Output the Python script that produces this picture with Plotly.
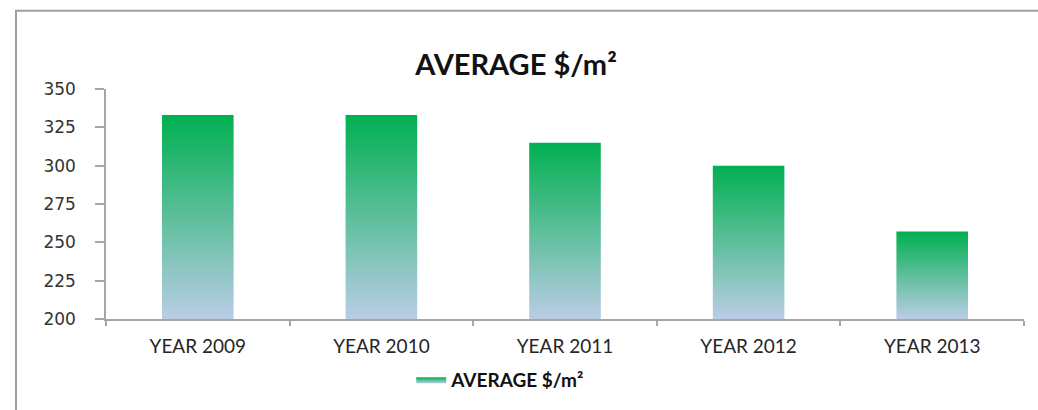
import plotly.graph_objects as go

# ---- data ----
categories = ["YEAR 2009", "YEAR 2010", "YEAR 2011", "YEAR 2012", "YEAR 2013"]
values = [333, 333, 315, 300, 257]
series_name = "AVERAGE $/m²"
y_ticks = [200, 225, 250, 275, 300, 325, 350]

# ---- style ----
BASE = 200
BAR_WIDTH = 0.39
GREEN = "#00B050"
LIGHT_BLUE = "#BACDE6"
AXIS_GRAY = "#A6A6A6"
TEXT = "#262626"

W, H = 1038, 410
ML, MR, MT, MB = 106, 14, 89, 89

fig = go.Figure()

for i, (cat, v) in enumerate(zip(categories, values)):
    x0, x1 = i - BAR_WIDTH / 2, i + BAR_WIDTH / 2
    fig.add_trace(go.Scatter(
        x=[x0, x1, x1, x0, x0],
        y=[BASE, BASE, v, v, BASE],
        mode="lines",
        fill="toself",
        line=dict(width=0, color=GREEN),
        fillgradient=dict(type="vertical", start=BASE, stop=v,
                          colorscale=[[0, LIGHT_BLUE], [1, GREEN]]),
        name=f"<b>{series_name}</b>",
        legendgroup="avg",
        showlegend=(i == 0),
        hovertext=f"{cat}: {v}",
        hoverinfo="text",
    ))

n = len(categories)
boundaries = [i - 0.5 for i in range(n + 1)]

fig.update_layout(
    width=W, height=H,
    margin=dict(l=ML, r=MR, t=MT, b=MB),
    paper_bgcolor="white",
    plot_bgcolor="white",
    title=dict(text=f"<b>{series_name}</b>", x=516 / W, xanchor="center",
               y=1 - 65 / H, yanchor="middle",
               font=dict(family="Lato", size=29, color="#111111")),
    xaxis=dict(
        range=[-0.5, n - 0.5],
        tickmode="array", tickvals=list(range(n)), ticktext=categories,
        ticks="", showgrid=False, zeroline=False,
        showline=True, linecolor=AXIS_GRAY, linewidth=1.5,
        tickfont=dict(family="Lato", size=19, color=TEXT),
        ticklabelstandoff=9,
        minor=dict(tickmode="array", tickvals=boundaries, ticks="outside",
                   ticklen=5, tickcolor=AXIS_GRAY, tickwidth=1.5, showgrid=False),
    ),
    yaxis=dict(
        range=[BASE, 350], tickmode="array", tickvals=y_ticks,
        ticks="outside", ticklen=9, tickcolor=AXIS_GRAY, tickwidth=1.5,
        showgrid=False, zeroline=False,
        showline=True, linecolor=AXIS_GRAY, linewidth=1.5,
        tickfont=dict(family="DejaVu Sans", size=17, color="#333333"),
        ticklabelstandoff=16,
    ),
    legend=dict(orientation="h", x=0.43, xanchor="center", y=-0.263, yanchor="middle",
                font=dict(family="Lato", size=19, color="#111111"),
                itemwidth=30, bgcolor="rgba(0,0,0,0)"),
    showlegend=True,
)

pw = W - ML - MR
ph = H - MT - MB
fig.add_shape(type="rect", xref="paper", yref="paper",
              x0=(16 - ML) / pw, x1=(W + 40 - ML) / pw,
              y0=-1.0, y1=(H - MB - 10) / ph,
              line=dict(color="#9E9E9E", width=2), fillcolor="rgba(0,0,0,0)",
              layer="below")

fig.write_html("out.html", config={"displayModeBar": False},
               post_script="document.body.style.margin='0px';document.body.style.overflow='hidden';")
